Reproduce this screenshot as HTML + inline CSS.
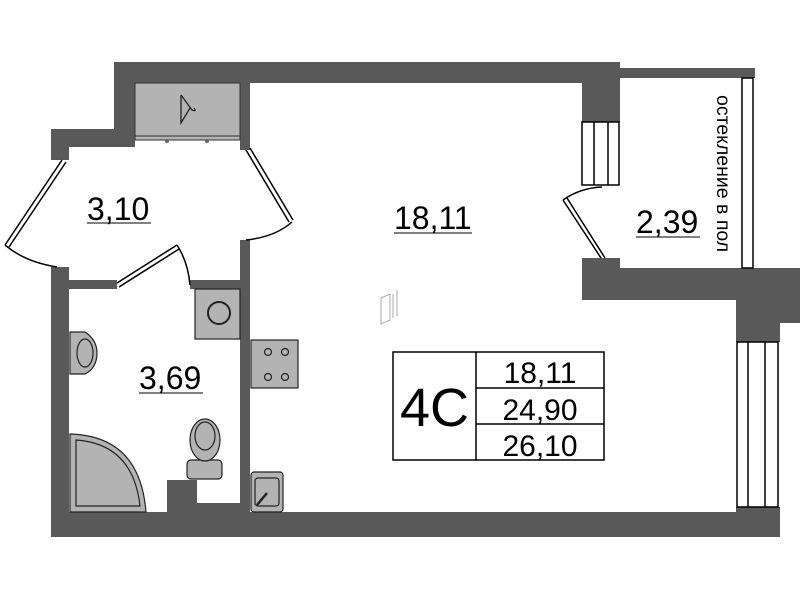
<!DOCTYPE html>
<html><head><meta charset="utf-8"><style>html,body{margin:0;padding:0;background:#fff}svg{display:block}text{font-family:"Liberation Sans",sans-serif;fill:#000}</style></head><body>
<svg width="800" height="600" viewBox="0 0 800 600" xmlns="http://www.w3.org/2000/svg">
<g fill="#595959">
<rect x="114" y="62" width="506" height="21"/>
<rect x="114" y="62" width="21" height="85"/>
<rect x="51" y="129" width="84" height="18"/>
<rect x="51" y="129" width="18" height="31"/>
<rect x="240" y="62" width="10" height="88"/>
<rect x="51" y="267" width="18" height="270"/>
<rect x="51" y="512" width="729" height="25"/>
<rect x="69" y="280" width="48" height="9"/>
<rect x="190" y="280" width="60" height="9"/>
<rect x="240" y="240" width="10" height="272"/>
<rect x="582" y="62" width="38" height="60"/>
<rect x="620" y="68" width="135" height="10"/>
<rect x="582" y="258" width="38" height="42"/>
<rect x="582" y="268" width="218" height="32"/>
<rect x="736" y="268" width="44" height="74"/>
<rect x="780" y="268" width="20" height="55"/>
<rect x="736" y="507" width="44" height="30"/>
<rect x="167" y="480" width="30" height="32"/>
<rect x="197" y="503" width="43" height="9"/>
</g>
<rect x="135" y="83" width="105" height="57" fill="#b3b3b3" stroke="#333" stroke-width="1"/>
<line x1="135" y1="136" x2="240" y2="136" stroke="#333"/>
<path d="M181 95 L181 123 L190 108 M181 95 L192 110 Q197 112 194 108" fill="none" stroke="#222" stroke-width="1.3"/>
<circle cx="167" cy="141" r="2" fill="#666"/><circle cx="207" cy="141" r="2" fill="#666"/>
<g fill="none" stroke="#000" stroke-width="1.5">
<path d="M62 160 L5 245 M66 162 L9 247"/>
<path d="M5 245 Q25 262 57 267"/>
<path d="M246 150 L289 222 M250 148 L293 220"/>
<path d="M292 222 Q275 237 246 240"/>
<path d="M117 283 L177 245 M119 287 L179 249"/>
<path d="M177 245 Q188 262 190 285"/>
<path d="M563 200 L601 258 M567 198 L605 258"/>
<path d="M563 200 Q580 188 602 187"/>
<rect x="582" y="122" width="37" height="63"/>
<line x1="594" y1="122" x2="594" y2="185"/><line x1="608" y1="122" x2="608" y2="185"/>
<rect x="742" y="78" width="11" height="190"/>
<rect x="737" y="342" width="41" height="165"/>
<line x1="748" y1="342" x2="748" y2="507"/><line x1="765" y1="342" x2="765" y2="507"/>
</g>
<g stroke="#222" stroke-width="1.2" fill="#b3b3b3">
<rect x="195" y="289" width="45" height="50"/>
<circle cx="219" cy="313" r="11" fill="none" stroke-width="2"/>
<rect x="251" y="340" width="47" height="48"/>
<circle cx="268" cy="352" r="3.5" fill="none"/><circle cx="285" cy="352" r="3.5" fill="none"/>
<circle cx="268" cy="377" r="3.5" fill="none"/><circle cx="285" cy="377" r="3.5" fill="none"/>
<path d="M70 332 L85 332 Q97 340 97 353 Q97 368 85 374 L70 374 Z"/>
<ellipse cx="85" cy="353" rx="8" ry="14" fill="none"/>
<path d="M70 434 Q140 436 146 512 L70 512 Z"/>
<path d="M76 440 Q133 444 140 506 L76 506 Z" fill="none"/>
<rect x="187" y="460" width="35" height="19" rx="4"/>
<ellipse cx="205" cy="440" rx="15" ry="21"/>
<ellipse cx="205" cy="436" rx="10" ry="14" fill="none"/>
<rect x="251" y="472" width="32" height="40" rx="3"/>
<rect x="255" y="478" width="24" height="28" rx="3" fill="none"/>
<line x1="257" y1="505" x2="267" y2="493" stroke-width="2.5"/>
</g>
<g stroke="#aaa" fill="none" stroke-width="1"><path d="M381 298 L390 294 L390 320 L381 324 Z M393 294 L393 318 M397 290 L397 316"/></g>
<g font-size="32">
<text x="87" y="220">3,10</text><line x1="87" y1="223" x2="151" y2="223" stroke="#000"/>
<text x="394" y="229">18,11</text><line x1="394" y1="233" x2="472" y2="233" stroke="#000"/>
<text x="636" y="233">2,39</text><line x1="636" y1="237" x2="700" y2="237" stroke="#000"/>
<text x="139" y="389">3,69</text><line x1="139" y1="393" x2="203" y2="393" stroke="#000"/>
</g>
<text transform="translate(717,95) rotate(90)" font-size="19.5">остекление в пол</text>
<g fill="none" stroke="#000" stroke-width="1.5">
<rect x="393" y="352" width="211" height="108"/>
<line x1="476" y1="352" x2="476" y2="460"/>
<line x1="476" y1="388" x2="604" y2="388"/><line x1="476" y1="424" x2="604" y2="424"/>
</g>
<text x="400" y="426" font-size="54">4C</text>
<g font-size="30" text-anchor="middle">
<text x="540" y="383">18,11</text><text x="540" y="420">24,90</text><text x="540" y="456">26,10</text>
</g>
</svg>
</body></html>
